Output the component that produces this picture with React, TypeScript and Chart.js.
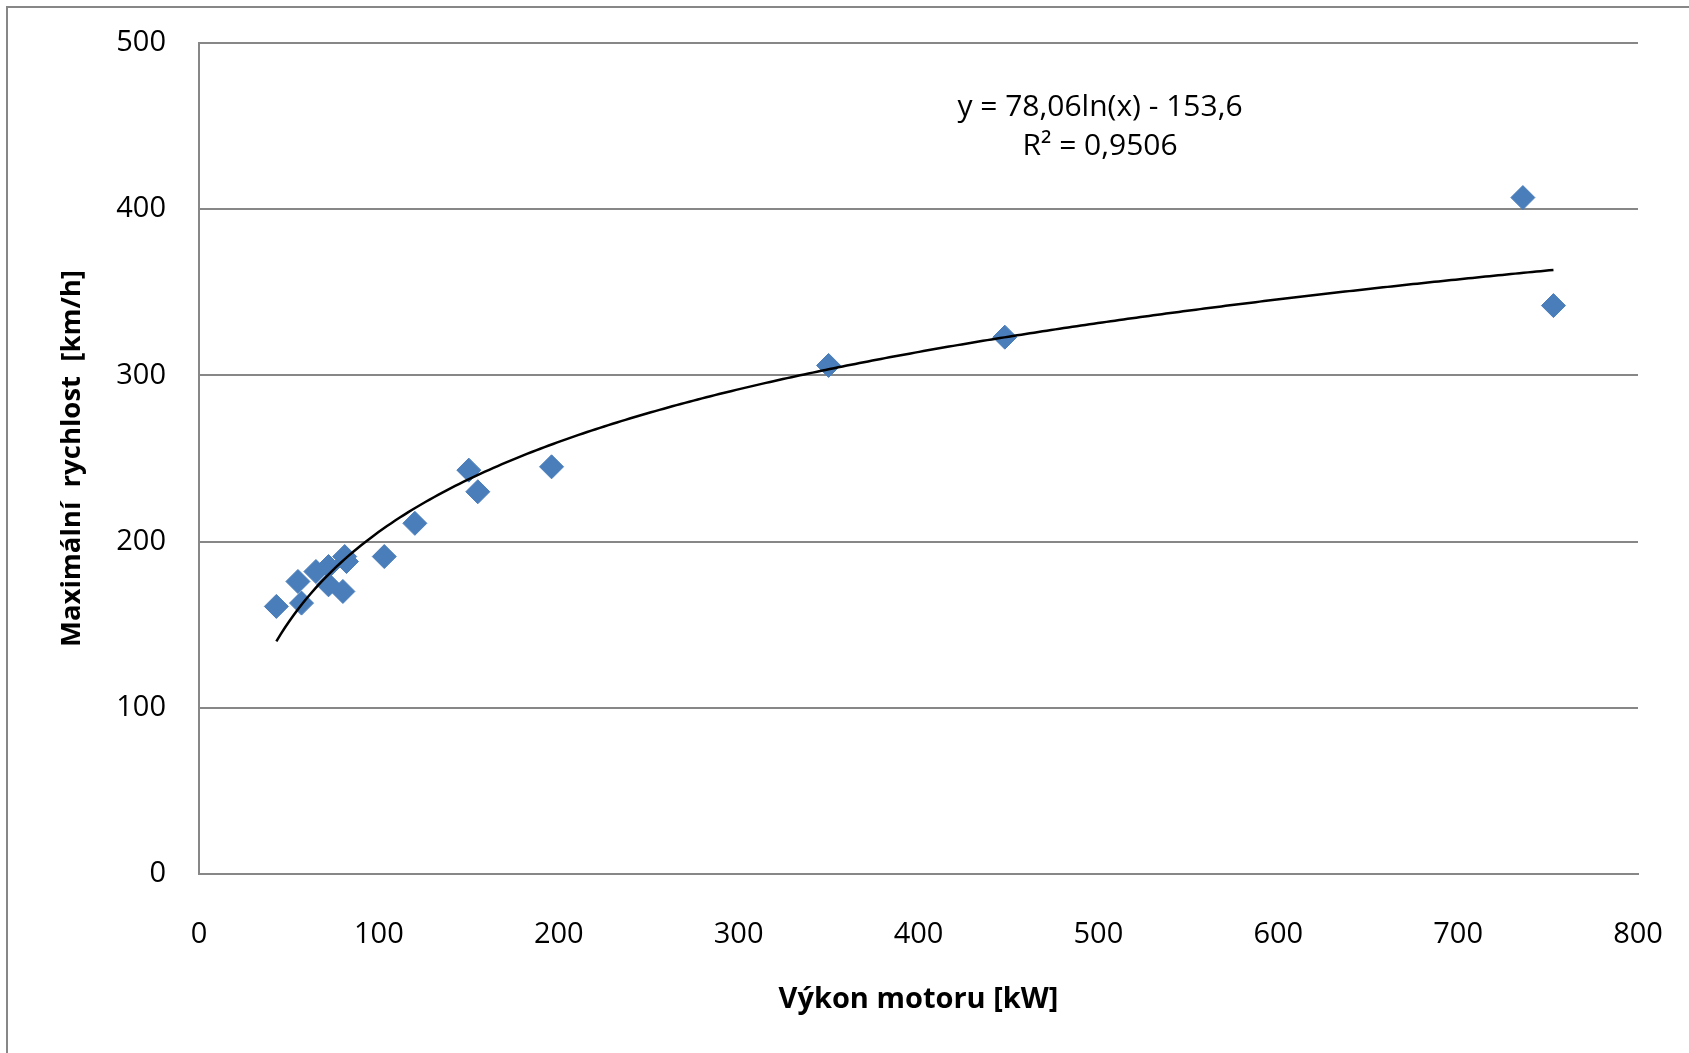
import React, { useEffect, useRef } from "react";
import { Chart, registerables } from "chart.js";

Chart.register(...registerables);

// Engine power [kW]
const powerKW: number[] = [43, 55, 57, 65, 72, 72, 80, 81, 82, 103, 120, 150, 155, 196, 350, 448, 736, 753];
// Max speed [km/h]
const maxSpeed: number[] = [161, 176, 163, 182, 185, 174, 170, 191, 188, 191, 211, 243, 230, 245, 306, 323, 407, 342];

const xTicks: number[] = [0, 100, 200, 300, 400, 500, 600, 700, 800];
const yTicks: number[] = [0, 100, 200, 300, 400, 500];

// Logarithmic trendline y = a*ln(x) + b (coefficients shown on chart)
const trendA = 78.06;
const trendB = -153.6;
const trendLabel: string[] = ["y = 78,06ln(x) - 153,6", "R² = 0,9506"];

const xTitle = "Výkon motoru [kW]";
const yTitle = "Maximální  rychlost  [km/h]";

const FONT = "'Open Sans', 'DejaVu Sans', sans-serif";
const GRID = "#878787";

function buildTrend() {
  const minX = Math.min(...powerKW);
  const maxX = Math.max(...powerKW);
  const pts: { x: number; y: number }[] = [];
  const n = 300;
  for (let i = 0; i <= n; i++) {
    const x = minX + ((maxX - minX) * i) / n;
    pts.push({ x, y: trendA * Math.log(x) + trendB });
  }
  return pts;
}

export default function App() {
  const ref = useRef<HTMLCanvasElement | null>(null);

  useEffect(() => {
    if (!ref.current) return;
    const framePlugin = {
      id: "frame",
      beforeDraw(chart: any) {
        const ctx = chart.ctx;
        ctx.save();
        ctx.fillStyle = "#ffffff";
        ctx.fillRect(0, 0, chart.width, chart.height);
        ctx.strokeStyle = GRID;
        ctx.lineWidth = 2;
        ctx.beginPath();
        ctx.moveTo(7, chart.height);
        ctx.lineTo(7, 7);
        ctx.lineTo(chart.width, 7);
        ctx.stroke();
        ctx.restore();
      },
      afterDraw(chart: any) {
        const ctx = chart.ctx;
        ctx.save();
        ctx.fillStyle = "#000000";
        ctx.font = `30px ${FONT}`;
        ctx.textAlign = "center";
        ctx.textBaseline = "middle";
        ctx.fillText(trendLabel[0], 1100, 107);
        ctx.fillText(trendLabel[1], 1100, 146);
        ctx.restore();
      },
    };

    const chart = new Chart(ref.current, {
      type: "scatter",
      data: {
        datasets: [
          {
            label: "trend",
            data: buildTrend(),
            showLine: true,
            borderColor: "#000000",
            borderWidth: 2.5,
            pointRadius: 0,
            fill: false,
            order: 0,
          },
          {
            label: "data",
            data: powerKW.map((x, i) => ({ x, y: maxSpeed[i] })),
            pointStyle: "rectRot",
            pointRadius: 12,
            pointBackgroundColor: "#4a7ebb",
            pointBorderColor: "#4a7ebb",
            pointBorderWidth: 1,
            showLine: false,
            order: 1,
          },
        ],
      },
      options: {
        animation: false,
        responsive: false,
        maintainAspectRatio: false,
        layout: { padding: { left: 0, top: 43, right: 51, bottom: 0 } },
        plugins: {
          legend: { display: false },
          tooltip: { enabled: false },
        },
        scales: {
          x: {
            type: "linear",
            min: 0,
            max: 800,
            afterBuildTicks: (s: any) => {
              s.ticks = xTicks.map((v) => ({ value: v }));
            },
            afterFit: (s: any) => {
              s.height = 179;
            },
            grid: { display: false, drawTicks: true, tickLength: 43 },
            border: { display: true, color: GRID, width: 2 },
            ticks: {
              color: "#000000",
              font: { family: FONT, size: 29 },
              padding: 0,
              maxRotation: 0,
            },
            title: {
              display: true,
              text: xTitle,
              color: "#000000",
              font: { family: FONT, size: 29, weight: "bold" },
              padding: { top: 0, bottom: 36 },
            },
          },
          y: {
            type: "linear",
            min: 0,
            max: 500,
            afterBuildTicks: (s: any) => {
              s.ticks = yTicks.map((v) => ({ value: v }));
            },
            afterFit: (s: any) => {
              s.width = 199;
            },
            grid: { color: GRID, lineWidth: 2, drawTicks: true, tickLength: 33, tickColor: "rgba(0,0,0,0)" },
            border: { display: true, color: GRID, width: 2 },
            ticks: {
              color: "#000000",
              font: { family: FONT, size: 29 },
              padding: 0,
            },
            title: {
              display: true,
              text: yTitle,
              color: "#000000",
              font: { family: FONT, size: 27.5, weight: "bold" },
              padding: { top: 56, bottom: 0 },
            },
          },
        },
      },
      plugins: [framePlugin],
    } as any);
    return () => chart.destroy();
  }, []);

  return (
    <div style={{ position: "absolute", left: 0, top: 0, width: 1689, height: 1053 }}>
      <canvas ref={ref} width={1689} height={1053} style={{ display: "block", width: 1689, height: 1053 }} />
    </div>
  );
}
